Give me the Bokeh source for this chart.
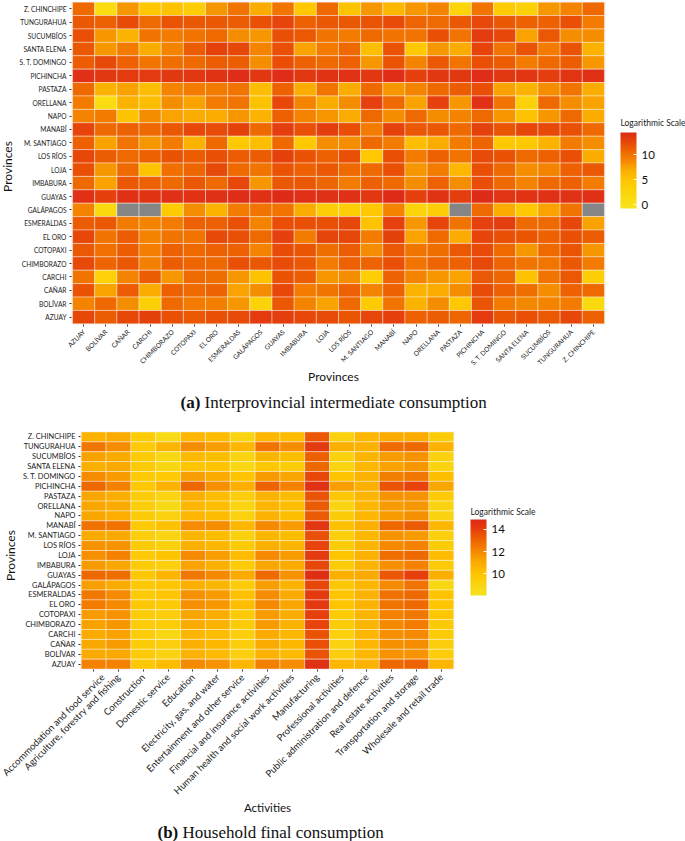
from bokeh.plotting import figure
from bokeh.layouts import column
from bokeh.models import ColumnDataSource, LinearColorMapper, ColorBar, FixedTicker, FactorRange, Label
from bokeh.embed import file_html
from bokeh.resources import INLINE
import numpy as np
import math

provinces = ["AZUAY","BOLÍVAR","CAÑAR","CARCHI","CHIMBORAZO","COTOPAXI","EL ORO","ESMERALDAS","GALÁPAGOS","GUAYAS","IMBABURA","LOJA","LOS RÍOS","M. SANTIAGO","MANABÍ","NAPO","ORELLANA","PASTAZA","PICHINCHA","S. T. DOMINGO","SANTA ELENA","SUCUMBÍOS","TUNGURAHUA","Z. CHINCHIPE"]
activities = ["Accommodation and food service","Agriculture, forestry and fishing","Construction","Domestic service","Education","Electricity, gas, and water","Entertainment and other service","Financial and insurance activities","Human health and social work activities","Manufacturing","Professional activities","Public administration and defence","Real estate activities","Transportation and storage","Wholesale and retail trade"]
N = None
# top row first (Z. CHINCHIPE) ... bottom row last (AZUAY)
inter = [
[10.5,1,8,4.5,5,3.5,8,10,7,10,4.5,10.5,5,8,6,8,9,2.5,10,4,3,8,9,10.5],
[11.5,11,12.3,10.5,11.8,11.5,11.5,11.3,12,12.7,11,11.5,11.5,11.8,12.3,10.8,10.5,11.5,12.5,11.5,11,11,12,9.5],
[12,8,6.5,10,9.5,10,10.5,8.5,8,12,11.5,10,9.5,10.5,10,10,12,10,13.3,12.5,7.5,11.5,8.5,8.5],
[11.5,8,9.5,7,9,11.3,12.8,12.5,9,12,7.5,9.5,10.5,5.5,11.8,4.5,8,7,12.7,10,11.8,9.5,11.8,6.5],
[11.3,12.4,11,10,10.3,10.5,11.3,11.2,8.5,12.2,11,10.5,11,8,11.8,9,11.5,10,12,11.3,9.5,10.5,11.2,8],
[14,13.5,13.3,13.3,13.5,13.5,13.8,14.2,13.5,14.2,13.5,13.8,13.8,13.5,14.2,13,13.5,13.5,14.2,13.5,13.6,13.2,13.7,14],
[10.5,6.5,7.5,5.5,9,9.5,9.5,10,5.5,11,7,10,7,10.5,8,9,10.5,11.3,12.2,7.5,6.5,8.5,10,7],
[9.5,1,6.5,5.5,8.5,7.5,9.5,10,5,12.5,9,7,8.5,13,10.5,7.5,13,8,14,10,3,10.5,8.5,7.5],
[9,9.5,5,8.5,7.5,7,7,8,6.5,11,9,8,7,10.5,8.5,10.5,8.5,9,10.5,8,5,8,10.5,7],
[12.7,10.5,11,10.5,11.5,12.5,12.3,12.8,10.5,13.2,12,13.2,12.2,9.5,12.8,11.5,11.5,10.5,12.8,11.7,12.6,12.4,12,10.5],
[11,7.5,10,8,9.5,6.5,10.5,4.3,5.5,10.5,4.5,8.5,8.5,10.5,9.5,5.5,7,9.5,10.8,4.5,4.3,6.5,9.5,8.5],
[12.5,11.3,10.5,11,11.8,11.3,12,11.2,11.2,12.8,11.8,11,12,4.5,12,9.5,11,10,12.3,11.8,10.5,11,12,7],
[12,8,10.5,5,10.2,10.7,12.4,10.5,10,11.8,11,11.5,10.5,10.5,12,8,9.5,6,12,10.5,8.5,9,11,11.5],
[10.5,7.5,11.5,11,10.5,11.5,10.5,12.5,8,11.5,11.5,10.7,9.5,11,10.5,8.5,11,8.5,12.2,10.5,9,10.5,11,9.5],
[14,13,14,13.8,14,13.8,14,14.2,14,14.3,14,14,14,13.5,14.3,13,13.8,13.2,14.3,13.7,13.8,14,13.9,14],
[9,1.5,N,N,4,8.5,6.5,9.5,10,10,7,3.5,3.5,4.5,9,2.5,3.5,N,10.5,7,4.5,7.5,10,N],
[11.3,11.5,9.5,9,9.5,11,11,12,9,12.2,12,12,12.5,5,13,8,12.7,10,13,13.2,10.5,10.5,12.5,7.5],
[12.6,10,11.3,9,10,10,12.4,12,10.5,13,9.5,12.7,12.6,9.5,12.8,7.5,10.5,7,12.7,12,11.7,11,12,11.3],
[11.5,10.2,11.3,9.3,11,10.5,11,11,9,12.3,11.7,10.3,11.2,8.5,11.5,9.8,10.3,11.5,12.3,10.5,8,10.5,11.7,8],
[12.4,10.8,11.5,9.2,11.3,10.7,10.5,12,11.5,12.3,11.5,9.5,11,10.8,12,10,10.8,11,12.5,10.8,10,9.8,11.5,9.5],
[10,3,9,11.3,8,10.5,10.3,8,5,11.8,11.3,8,8.5,3.5,10.8,9,8,7.5,11.5,10.7,5,10,11.5,3.5],
[11.8,7.5,11.3,7,11,10.5,10.8,7.5,8.5,12.5,9.5,9.8,11,9,11,6.5,7,8.5,12.3,11,10.3,8.5,11,10.5],
[9,10.5,8.5,3.2,10.5,9.5,9.3,8,2.8,11.5,9,7.5,10.5,4,10,6.5,8.5,4.5,11.7,9.5,8.8,9,9.5,1.5],
[12.5,11.3,12.5,12.8,12,11.5,12,12.3,13.3,13.2,12.5,12.3,11.7,12.6,13,11,11.3,10.7,13.3,11.7,12,11.5,12.5,11],
]
house = [
[10.7,11,9.5,8.6,10.5,10.3,9,10.5,10.3,13.4,9.2,10.5,11,11,9.5],
[12.5,11.9,9.7,10.6,11.9,11.4,10.5,12.6,11.9,14.2,10.8,10.7,12.9,13,10.7],
[11.3,11,9.6,8.8,10.4,10.2,9,10.6,10.2,13.2,9.2,10.6,11.5,11.7,9.1],
[10.8,11.1,9.6,8.9,10,10,8.8,9.8,9.5,13,9,10.5,11.3,11.6,9],
[11.9,11.5,9.7,9.7,11.4,11,10,11.5,11.2,13.8,10,10.7,12.3,12.5,10.2],
[13,12.2,9.8,10.7,13,11.8,10.8,13.1,12.2,14.6,11.4,10.8,13.5,13.9,11.2],
[11.2,10.9,9.5,9,10.8,10.3,9.4,10.7,10.3,13.5,9.8,10.6,11.7,11.7,9.7],
[11.2,11,9.4,8.7,10.5,10.2,9,10.6,10.2,13.3,9,10.5,11.5,11.6,9.1],
[11.2,10.9,9.5,9.2,10.5,10.3,9.2,10.7,10.2,13.3,9.5,10.5,11.5,11.8,9.1],
[12.7,12.7,9.7,10.1,11.9,11.9,10.5,12,11.5,14.4,10.1,10.8,13,13.3,10.5],
[11,11.1,9.4,9,10.5,10.3,9.2,10.5,10.3,13.6,9.3,10.5,11.7,11.5,9.3],
[11.7,11.7,9.6,9.2,10.8,10.5,9.6,10.8,10.6,13.9,9.5,10.6,12,12.2,9.6],
[11.8,12.2,9.7,10,12,11.4,10.3,12,11.5,14.2,9.9,10.7,12.8,13,10.3],
[11.5,11.2,9.6,9.3,11.3,10.8,9.6,11.2,11,13.8,9.5,10.7,11.8,12.2,9.6],
[13,12.8,9.8,10.6,12.5,12,11,12.9,11.7,14.7,10.8,11,13.4,14,10.8],
[11.4,11,9.8,9.9,10.8,10.6,9.5,11.4,10.7,13.8,9.8,10.5,12,12.7,8.9],
[12.5,12,9.7,9.9,11.8,11.5,10.1,11.9,11,14.2,9.9,10.7,12.7,13,10],
[12.4,12,9.8,9.7,11.8,11.6,10.2,12,11.2,14.3,10,10.7,12.7,13,9.9],
[11.5,11.7,9.5,9.4,11.2,10.9,9.6,11.5,10.9,14,9.6,10.6,12.2,12.5,9.8],
[11.3,11.6,9.5,9.5,11,10.7,9.5,11.5,10.7,13.9,9.5,10.6,12,12.4,9.7],
[11,11.3,9.5,8.9,10.6,10.3,9.3,11,10.5,13.5,9.2,10.5,11.8,12,9.6],
[11.1,11.5,9.5,9.3,10.8,10.5,9.4,11,10.5,13.6,9.1,10.5,11.8,11.9,9.4],
[11,11.1,9.6,9.1,10.7,10.4,9.3,10.7,10.4,13.5,9.4,10.5,11.7,11.7,9.5],
[12.2,12.2,9.8,10.3,12,11.7,10.5,12.3,11.9,14.6,10.5,10.7,13,13.1,10.6],
]
stops_a = [(0.0,"#F7E61A"),(0.35,"#FFC800"),(0.50,"#FBB000"),(0.62,"#F58A00"),(0.72,"#F07000"),(0.85,"#E94E05"),(1.0,"#DE2A18")]
stops_b = [(0.0,"#F5E320"),(0.28,"#FFC400"),(0.45,"#FAA800"),(0.58,"#F58800"),(0.72,"#EE6800"),(0.87,"#E63F0C"),(1.0,"#DE2A18")]
ticks_a = [0, 5, 10]
ticks_b = [10, 12, 14]
FONT = "Lato"

def ramp(stops):
    out = []
    ts = [s[0] for s in stops]
    rgb = [[int(s[1][i:i+2],16) for i in (1,3,5)] for s in stops]
    for t in np.linspace(0,1,256):
        c = [int(round(np.interp(t, ts, [r[k] for r in rgb]))) for k in range(3)]
        out.append("#%02X%02X%02X" % tuple(c))
    return out

def heat(matrix, xs, ys, mapper, height, left, right, top, bottom, xfs, yfs, ticks, cbx, cby, cbh, tfs):
    rows = list(reversed(ys))
    X, Y, V = [], [], []
    for r, row in zip(rows, matrix):
        for c, val in zip(xs, row):
            X.append(c); Y.append(r); V.append(float("nan") if val is None else val)
    src = ColumnDataSource(dict(x=X, y=Y, v=V))
    p = figure(width=685, height=height, x_range=FactorRange(factors=xs, range_padding=0.004),
               y_range=FactorRange(factors=ys, range_padding=0.004),
               output_backend="svg", toolbar_location=None, tools="",
               min_border_left=left, min_border_right=right, min_border_top=top, min_border_bottom=bottom,
               background_fill_color="#EFEFEF", border_fill_color="white")
    p.outline_line_color = None
    p.grid.visible = False
    p.rect("x", "y", 1, 1, source=src, fill_color={"field": "v", "transform": mapper},
           line_color="white", line_alpha=0.4, line_width=1)
    p.xaxis.major_label_orientation = math.pi/4
    p.xaxis.major_label_text_font = FONT
    p.yaxis.major_label_text_font = FONT
    p.xaxis.major_label_text_font_size = xfs
    p.yaxis.major_label_text_font_size = yfs
    p.xaxis.major_label_text_color = "#222222"
    p.yaxis.major_label_text_color = "#222222"
    p.axis.axis_line_color = None
    p.axis.major_tick_in = 0
    p.axis.major_tick_out = 2
    p.axis.major_tick_line_color = "#333333"
    p.yaxis.major_label_standoff = 3
    p.xaxis.major_label_standoff = 4
    cb = ColorBar(color_mapper=mapper, ticker=FixedTicker(ticks=ticks), location=(cbx, cby),
                  width=16, height=cbh, title=None,
                  major_label_text_font=FONT, major_label_text_font_size=tfs, major_label_text_color="#111111",
                  major_tick_line_color="white", major_tick_in=3, major_tick_out=0, bar_line_color=None,
                  minor_tick_line_color=None, background_fill_alpha=0, padding=0, border_line_color=None, label_standoff=5)
    p.add_layout(cb, "center")
    return p

p1 = heat(inter, provinces, provinces, LinearColorMapper(palette=ramp(stops_a), low=-0.8, high=14.4, nan_color="#858585"),
          420, 71, 80, 1, 96, "6.6px", "6.6px", ticks_a, 549, 116, 76, "11.5px")
p2 = heat(house, activities, provinces, LinearColorMapper(palette=ramp(stops_b), low=8.05, high=14.9, nan_color="#858585"),
          421, 80, 231, 11, 172, "9.5px", "7.4px", ticks_b, 390, 74, 76, "11.5px")

overlay = figure(width=685, height=841, x_range=(0, 685), y_range=(841, 0), x_axis_type=None, y_axis_type=None,
                 output_backend="svg", toolbar_location=None, tools="", min_border=0,
                 background_fill_alpha=0, border_fill_alpha=0, outline_line_color=None, margin=(-841, 0, 0, 0))
overlay.grid.visible = False
def lab(x, y, t, size, font=FONT, style="normal", align="left", angle=0, color="#111111"):
    overlay.add_layout(Label(x=x, y=y, x_units="canvas", y_units="canvas", text=t, text_font=font, text_font_size=size,
                             text_font_style=style, text_align=align, text_baseline="middle", angle=angle, text_color=color))
lab(7, 166, "Provinces", "12px", align="center", angle=math.pi/2)
lab(333, 376, "Provinces", "12px", align="center")
lab(10, 555, "Provinces", "12px", align="center", angle=math.pi/2)
lab(267, 807, "Activities", "11.5px", align="center")
lab(620, 122, "Logarithmic Scale", "8.5px", color="#222222")
lab(470, 511, "Logarithmic Scale", "8.5px", color="#222222")
lab(180, 402, "(a)", "17px", font="Liberation Serif", style="bold")
lab(204, 402, "Interprovincial intermediate consumption", "17px", font="Liberation Serif")
lab(157, 832, "(b)", "17px", font="Liberation Serif", style="bold")
lab(182, 832, "Household final consumption", "17px", font="Liberation Serif")

root = column(column(p1, spacing=0), column(p2, spacing=0), overlay, spacing=0)
open("out.html", "w").write(file_html(root, INLINE))
